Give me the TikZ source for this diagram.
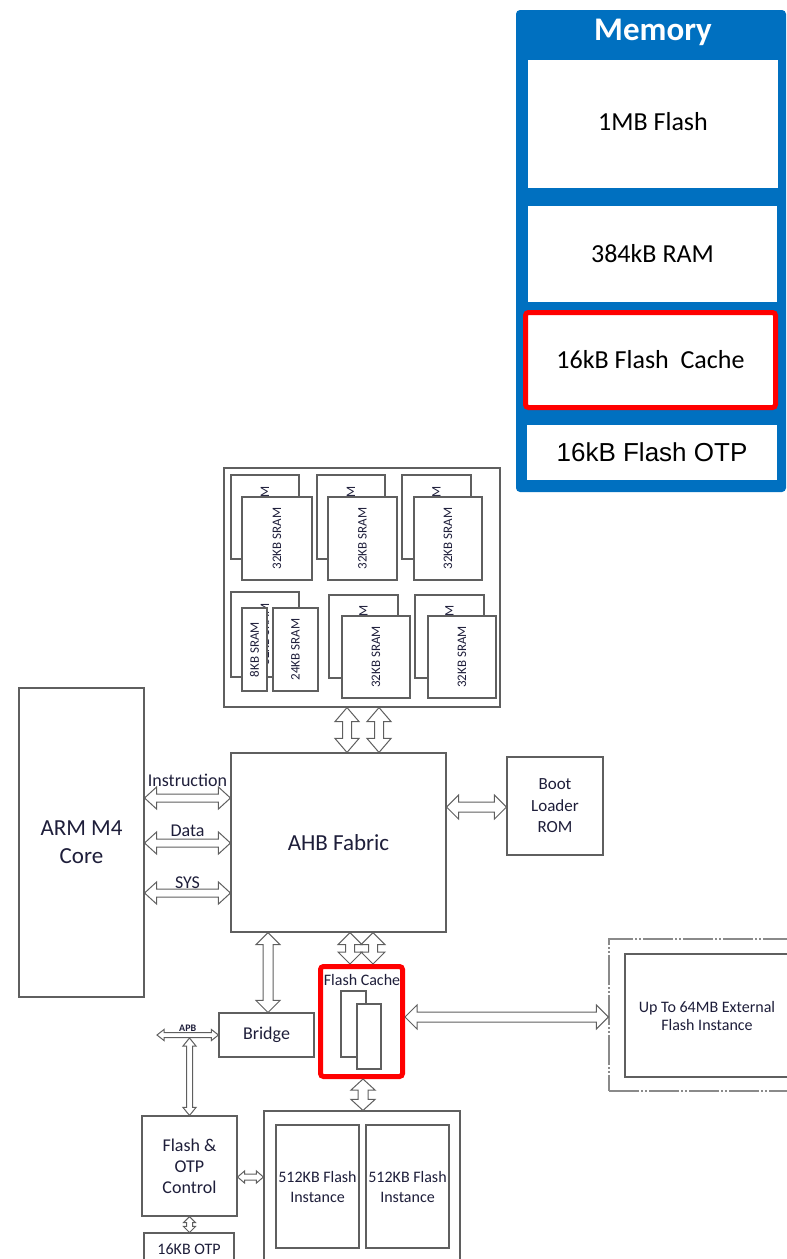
\documentclass[tikz,border=0pt]{standalone}
\usepackage{fontspec}
\setmainfont{Carlito}
\newfontfamily\otpfont{Liberation Sans}
\usepackage{tikz}
\usetikzlibrary{calc,positioning}
\definecolor{memblue}{HTML}{0070C0}
\definecolor{cachered}{HTML}{FF0000}
\definecolor{linegray}{HTML}{5F5F5F}
\definecolor{dashgray}{HTML}{8A8A8A}
\definecolor{textdark}{HTML}{1E1E3A}

\def\bushead{12pt}
\def\busshaft{4.5pt}
\def\buslen{12pt}

\begin{document}
\begin{tikzpicture}[
  x=1pt, y=-1pt,
  font=\fontsize{18}{21}\selectfont,
  bushead/.store in=\bushead,
  busshaft/.store in=\busshaft,
  buslen/.store in=\buslen,
  bus/.style={
    draw=linegray,
    line width=1pt,
    to path={
      -- ($(\tikztostart)!\buslen!(\tikztotarget)!\bushead!90:(\tikztotarget)$)
      -- ($(\tikztostart)!\buslen!(\tikztotarget)!\busshaft!90:(\tikztotarget)$)
      -- ($(\tikztotarget)!\buslen!(\tikztostart)!\busshaft!-90:(\tikztostart)$) \tikztonodes
      -- ($(\tikztotarget)!\buslen!(\tikztostart)!\bushead!-90:(\tikztostart)$)
      -- (\tikztotarget)
      -- ($(\tikztotarget)!\buslen!(\tikztostart)!\bushead!90:(\tikztostart)$)
      -- ($(\tikztotarget)!\buslen!(\tikztostart)!\busshaft!90:(\tikztostart)$)
      -- ($(\tikztostart)!\buslen!(\tikztotarget)!\busshaft!-90:(\tikztotarget)$)
      -- ($(\tikztostart)!\buslen!(\tikztotarget)!\bushead!-90:(\tikztotarget)$)
      -- cycle
    }
  },
  bigbus/.style={bus, bushead=12pt, busshaft=4.5pt, buslen=12pt},
  smallbus/.style={bus, bushead=6pt, busshaft=3pt, buslen=7pt},
  buslabel/.style={inner sep=0pt, text=textdark, font=\fontsize{18}{21}\selectfont},
  box/.style={
    draw=linegray,
    line width=1.1pt,
    fill=white,
    align=center,
    inner sep=2pt,
    text=textdark
  },
  sramcell/.style={box, rotate=90, font=\fontsize{13}{15}\selectfont},
  cachebox/.style={
    draw=cachered,
    line width=5pt,
    rounded corners=3pt,
    fill=white
  },
  memcell/.style={
    fill=white,
    minimum width=250pt,
    align=center,
    font=\fontsize{26}{30}\selectfont
  },
  extbox/.style={
    draw=dashgray,
    line width=1.2pt,
    dash pattern=on 30pt off 2pt on 2pt off 2pt on 2pt off 2pt
  }
]

\clip (0,0) rectangle (787,1259);

% Memory summary panel
\node[fill=memblue, rounded corners=4pt, minimum width=270pt, minimum height=482pt, inner sep=0pt] (mem) at (651,251) {};
\node[text=white, font=\bfseries\fontsize{33}{36}\selectfont] (memtitle) at (653,32) {Memory};
\node[memcell, minimum height=128pt] (mflash) at (653,124) {\raisebox{6pt}{1MB Flash}};
\node[memcell, minimum width=249pt, minimum height=96pt] (mram) at (652.5,254) {384kB RAM};
\node[memcell, cachebox, minimum height=95pt] (mcache) at (650.5,360) {16kB Flash~ Cache};
\node[memcell, minimum height=55pt, font=\otpfont\fontsize{26}{30}\selectfont] (motp) at (652,452.5) {16kB Flash OTP};

% SRAM banks
\node[box, minimum width=276pt, minimum height=239pt] (sram) at (362,587.5) {};
\node[sramcell, minimum width=84pt, minimum height=68pt] (sb1) at (265,517) {32KB SRAM};
\node[sramcell, minimum width=83pt, minimum height=70pt] (sf1) at (277,538.5) {32KB SRAM};
\node[sramcell, minimum width=84pt, minimum height=68pt] (sb2) at (351,517) {32KB SRAM};
\node[sramcell, minimum width=83pt, minimum height=69pt] (sf2) at (362.5,538.5) {32KB SRAM};
\node[sramcell, minimum width=84pt, minimum height=69pt] (sb3) at (436.5,517) {32KB SRAM};
\node[sramcell, minimum width=83pt, minimum height=68pt] (sf3) at (448,538.5) {32KB SRAM};
\node[sramcell, minimum width=85pt, minimum height=68pt] (sb4) at (265,634.5) {32KB SRAM};
\node[sramcell, minimum width=83pt, minimum height=25pt, inner sep=0pt] (sf4a) at (254.5,649.5) {8KB SRAM};
\node[sramcell, minimum width=83pt, minimum height=45pt] (sf4b) at (295.5,649.5) {24KB SRAM};
\node[sramcell, minimum width=83pt, minimum height=69pt] (sb5) at (363.5,636.5) {32KB SRAM};
\node[sramcell, minimum width=82pt, minimum height=68pt] (sf5) at (376,657) {32KB SRAM};
\node[sramcell, minimum width=83pt, minimum height=69pt] (sb6) at (449.5,636.5) {32KB SRAM};
\node[sramcell, minimum width=82pt, minimum height=68pt] (sf6) at (462,657) {32KB SRAM};

% Core, fabric and peripherals
\node[box, minimum width=125pt, minimum height=309pt, font=\fontsize{23}{28}\selectfont] (core) at (81.5,842.5) {ARM M4\\Core};
\node[box, minimum width=215pt, minimum height=179pt, font=\fontsize{23}{28}\selectfont] (ahb) at (338.5,842.5) {AHB Fabric};
\node[box, minimum width=96pt, minimum height=98pt, font=\fontsize{17}{21.5}\selectfont] (boot) at (555,806) {Boot\\Loader\\ROM};
\node[box, minimum width=95pt, minimum height=44pt] (bridge) at (266.5,1035) {Bridge};
\node[box, minimum width=95pt, minimum height=100pt] (ctrl) at (189.5,1166) {Flash \&\\OTP\\Control};
\node[box, minimum width=90pt, minimum height=32pt, font=\fontsize{16}{19}\selectfont] (otp) at (189,1249) {16KB OTP};

% Flash cache
\node[cachebox, minimum width=82pt, minimum height=110pt] (fcache) at (361.5,1021.5) {};
\node[text=textdark, font=\fontsize{16}{19}\selectfont] (fclabel) at (362,980) {Flash Cache};
\node[box, minimum width=25pt, minimum height=66pt] (fcback) at (353.5,1024) {};
\node[box, minimum width=24pt, minimum height=65pt] (fcfront) at (369,1036.5) {};

% Flash instances
\node[box, minimum width=196pt, minimum height=151pt] (flash) at (362,1186.5) {};
\node[box, minimum width=83pt, minimum height=123pt, font=\fontsize{16}{20}\selectfont] (inst1) at (317.5,1186.5) {512KB Flash\\Instance};
\node[box, minimum width=83pt, minimum height=123pt, font=\fontsize{16}{20}\selectfont] (inst2) at (407.5,1186.5) {512KB Flash\\Instance};

% External flash
\node[extbox, minimum width=196pt, minimum height=152pt] (extouter) at (707,1015) {};
\node[box, minimum width=164pt, minimum height=123pt, font=\fontsize{16}{18}\selectfont] (ext) at (707,1015.5) {Up To 64MB External\\Flash Instance};

% Bus levels
\coordinate (yinst) at (0,798);
\coordinate (ydata) at (0,843);
\coordinate (ysys) at (0,893);
\coordinate (yboot) at (0,807);
\coordinate (yext) at (0,1017);
\coordinate (yctl) at (0,1177);
\coordinate (xsr1) at (347,0);
\coordinate (xsr2) at (379,0);
\coordinate (xbr) at (268,0);
\coordinate (xfc1) at (350,0);
\coordinate (xfc2) at (373,0);
\coordinate (xfi) at (363,0);
\coordinate (apbend) at (157,1035);
\coordinate (apbtap) at (189.5,1038);

% Connections
\draw[bigbus, bushead=11pt, busshaft=4pt] (core.east |- yinst) to node[buslabel, midway, above=7pt] {Instruction} (ahb.west |- yinst);
\draw[bigbus, bushead=11pt, busshaft=4pt] (core.east |- ydata) to node[buslabel, midway, above=1.5pt] {Data} (ahb.west |- ydata);
\draw[bigbus, bushead=11pt, busshaft=4pt] (core.east |- ysys) to node[buslabel, midway, above=0pt] {SYS} (ahb.west |- ysys);
\draw[bigbus, buslen=14pt] (sram.south -| xsr1) to (ahb.north -| xsr1);
\draw[bigbus, buslen=14pt] (sram.south -| xsr2) to (ahb.north -| xsr2);
\draw[bigbus, busshaft=5pt] (ahb.east |- yboot) to (boot.west |- yboot);
\draw[bigbus, busshaft=5pt] (ahb.south -| xbr) to (bridge.north -| xbr);
\draw[bigbus] (ahb.south -| xfc1) to (fcache.north -| xfc1);
\draw[bigbus] (ahb.south -| xfc2) to (fcache.north -| xfc2);
\draw[bigbus, busshaft=5pt, buslen=11pt] (fcache.south -| xfi) to (flash.north -| xfi);
\draw[bigbus, busshaft=5pt] (fcache.east |- yext) to (extouter.west |- yext);
\draw[smallbus, bushead=5.5pt, busshaft=2.5pt] (apbend) to node[buslabel, midway, above=1pt, font=\bfseries\fontsize{10}{12}\selectfont] {APB} (bridge.west |- apbend);
\draw[smallbus, bushead=6.5pt, buslen=8pt] (apbtap) to (ctrl.north -| apbtap);
\draw[smallbus] (ctrl.east |- yctl) to (flash.west |- yctl);
\draw[smallbus, buslen=6pt] (ctrl.south) to (otp.north -| ctrl.south);

\end{tikzpicture}
\end{document}
